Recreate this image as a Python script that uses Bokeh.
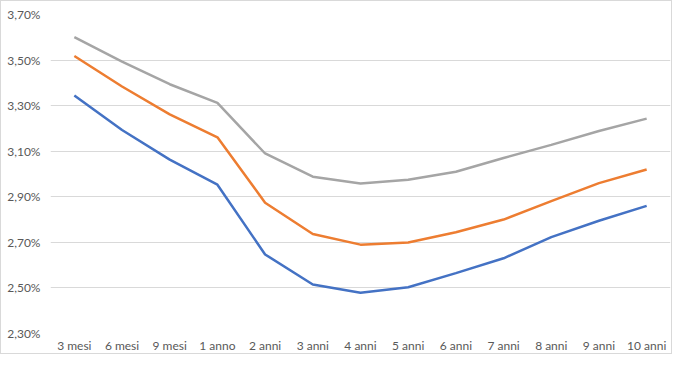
from bokeh.plotting import figure
from bokeh.models import FactorRange, Range1d, FixedTicker
from bokeh.embed import file_html
from bokeh.resources import INLINE

categories = ["3 mesi", "6 mesi", "9 mesi", "1 anno", "2 anni", "3 anni", "4 anni",
              "5 anni", "6 anni", "7 anni", "8 anni", "9 anni", "10 anni"]
serie_blu = [3.345, 3.193, 3.063, 2.953, 2.647, 2.515, 2.479, 2.503, 2.565, 2.630, 2.723, 2.795, 2.860]
serie_arancio = [3.518, 3.384, 3.262, 3.161, 2.874, 2.737, 2.690, 2.699, 2.744, 2.800, 2.881, 2.960, 3.020]
serie_grigio = [3.601, 3.493, 3.394, 3.312, 3.090, 2.988, 2.958, 2.975, 3.010, 3.070, 3.128, 3.189, 3.243]
y_ticks = [2.30, 2.50, 2.70, 2.90, 3.10, 3.30, 3.50, 3.70]
y_labels = ["2,30%", "2,50%", "2,70%", "2,90%", "3,10%", "3,30%", "3,50%", "3,70%"]

p = figure(width=672, height=354, x_range=FactorRange(*categories),
           y_range=Range1d(2.30, 3.70), output_backend="svg", toolbar_location=None,
           min_border_left=49, min_border_right=3, min_border_top=13, min_border_bottom=19)
p.styles = {"border": "1px solid #d9d9d9"}
p.outline_line_color = None

for vals, col in [(serie_grigio, "#A5A5A5"), (serie_arancio, "#ED7D31"), (serie_blu, "#4472C4")]:
    p.line(categories, vals, line_color=col, line_width=2.5)

p.yaxis.ticker = FixedTicker(ticks=y_ticks)
p.yaxis.major_label_overrides = {t: l for t, l in zip(y_ticks, y_labels)}
for ax in (p.xaxis, p.yaxis):
    ax.axis_line_color = None
    ax.major_tick_line_color = None
    ax.minor_tick_line_color = None
    ax.major_tick_out = 0
    ax.major_tick_in = 0
    ax.major_label_text_font = "Lato"
    ax.major_label_text_font_size = "12px"
    ax.major_label_text_color = "#595959"
p.yaxis.major_label_standoff = 10
p.xaxis.major_label_standoff = 4
p.xgrid.grid_line_color = None
p.ygrid.grid_line_color = "#d9d9d9"
p.ygrid.grid_line_width = 1

open("out.html", "w").write(file_html(p, INLINE))
